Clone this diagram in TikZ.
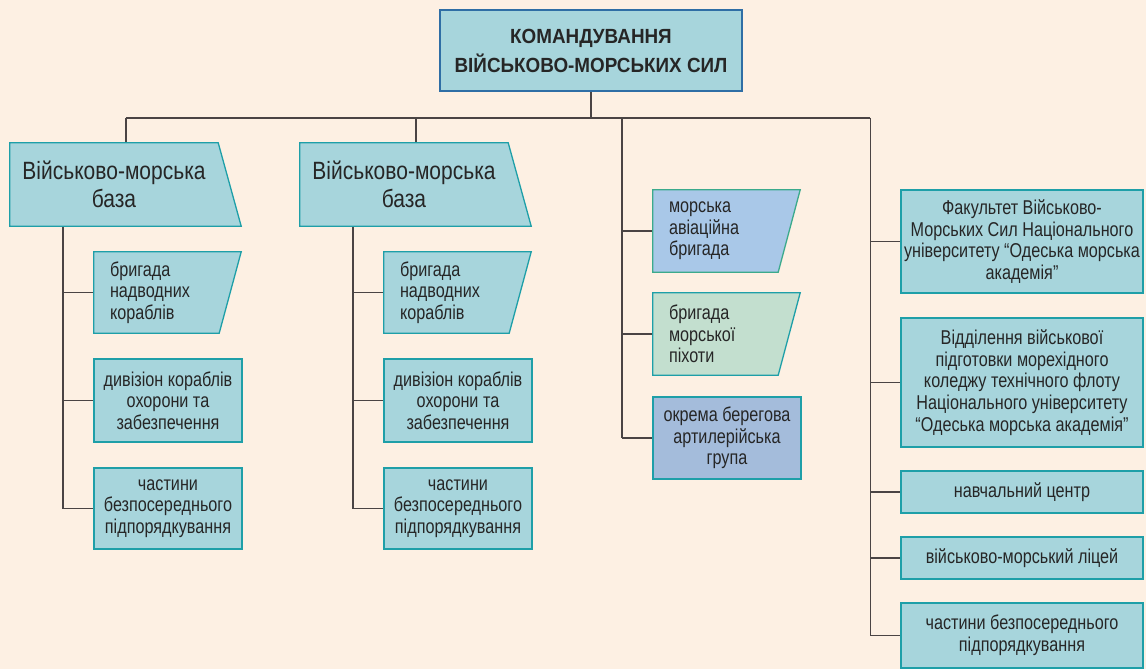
\documentclass[tikz,border=0pt]{standalone}
\usepackage{fontspec}
\setmainfont{Liberation Sans}[FakeStretch=0.81]
\newfontfamily\basefont{Liberation Sans}[FakeStretch=0.84]
\newfontfamily\topfont{Liberation Sans}[FakeStretch=0.92]
\usetikzlibrary{calc}
\pgfdeclarelayer{back}
\pgfdeclarelayer{bg}
\pgfsetlayers{back,bg,main}
\definecolor{bgc}{HTML}{FDF0E3}
\definecolor{boxf}{HTML}{A7D5DC}
\definecolor{tealb}{HTML}{1E9FA8}
\definecolor{topb}{HTML}{2F6EA5}
\definecolor{avf}{HTML}{A9C8E8}
\definecolor{avb}{HTML}{3BAA8C}
\definecolor{marf}{HTML}{C3DFCF}
\definecolor{artf}{HTML}{A4BCDB}
\definecolor{linec}{HTML}{4A4444}
\definecolor{txt}{HTML}{262626}
\begin{document}
\begin{tikzpicture}[x=1pt,y=-1pt,
  boxfont/.style={font=\fontsize{20}{21.6}\selectfont},
  box/.style={boxfont, draw=tealb, fill=boxf, line width=1.3pt, text=txt, align=center, inner sep=0pt, minimum width=148pt},
  basenode/.style={font=\basefont\fontsize{25}{28}\selectfont, text=txt, align=center, inner sep=0pt, minimum width=208pt, minimum height=83pt},
  lbox/.style={boxfont, text=txt, align=left, text width=93pt, inner xsep=16pt, inner ysep=0pt, minimum height=81pt},
  trap/.style={draw=tealb, fill=boxf, line width=1.3pt},
  ln/.style={draw=linec, line width=1.7pt}]
\begin{pgfonlayer}{back}
\fill[bgc] (0,0) rectangle (1146,669);
\end{pgfonlayer}
\useasboundingbox (0,0) rectangle (1146,669);

% top
\node[box, draw=topb, minimum width=302pt, minimum height=81pt,
  font=\topfont\bfseries\fontsize{20.5}{29}\selectfont] (top) at (591,50.5)
  {КОМАНДУВАННЯ\\ВІЙСЬКОВО-МОРСЬКИХ СИЛ};

% column 1
\node[basenode] (base1) at (114,184.5) {Військово-морська\\база};
\node[lbox] (brig1) at (156.5,292.5) {бригада\\надводних\\кораблів};
\node[box, minimum height=83pt] (div1) at (168,400.5) {дивізіон кораблів\\охорони та\\забезпечення};
\node[box, minimum height=81pt] (parts1) at (168,508.5) {частини\\безпосереднього\\підпорядкування};

% column 2
\node[basenode] (base2) at (404,184.5) {Військово-морська\\база};
\node[lbox] (brig2) at (446.5,292.5) {бригада\\надводних\\кораблів};
\node[box, minimum height=83pt] (div2) at (458,400.5) {дивізіон кораблів\\охорони та\\забезпечення};
\node[box, minimum height=81pt] (parts2) at (458,508.5) {частини\\безпосереднього\\підпорядкування};

% column 3
\node[lbox, minimum height=82pt] (av) at (715.5,231) {морська\\авіаційна\\бригада};
\node[lbox, minimum height=82pt] (mar) at (715.5,334) {бригада\\морської\\піхоти};
\node[box, fill=artf, minimum height=82pt] (art) at (727,438) {окрема берегова\\артилерійська\\група};

% column 4
\node[box, minimum width=242pt, minimum height=103pt] (fac) at (1022,241.5)
  {Факультет Військово-\\Морських Сил Національного\\університету “Одеська морська\\академія”};
\node[box, minimum width=242pt, minimum height=129pt] (dep) at (1022,382.5)
  {Відділення військової\\підготовки морехідного\\коледжу технічного флоту\\Національного університету\\“Одеська морська академія”};
\node[box, minimum width=242pt, minimum height=42pt] (nav) at (1022,492) {навчальний центр};
\node[box, minimum width=242pt, minimum height=42pt] (lic) at (1022,558) {військово-морський ліцей};
\node[box, minimum width=242pt, minimum height=65pt] (parts4) at (1022,635.5) {частини безпосереднього\\підпорядкування};

\coordinate (bus) at ($(top.south)+(0,26)$);
\coordinate (b1in) at ($(base1.north west)+(116,0)$);
\coordinate (b2in) at ($(base2.north west)+(116,0)$);
\coordinate (t1) at ($(base1.south west)+(53,0)$);
\coordinate (t2) at ($(base2.south west)+(53,0)$);
\coordinate (t3) at ($(av.west)+(-31,0)$);
\coordinate (t4) at ($(fac.west)+(-30,0)$);

\begin{pgfonlayer}{bg}
  % connectors
  \draw[ln] (top.south) -- (bus);
  \draw[ln] (b1in |- bus) -- (t4 |- bus);
  \draw[ln] (b1in |- bus) -- (b1in);
  \draw[ln] (b2in |- bus) -- (b2in);
  \draw[ln] (t3 |- bus) -- (t3 |- art.west);
  \draw[ln] (t4 |- bus) -- (t4 |- parts4.west);
  \draw[ln] (t1) -- (t1 |- parts1.west);
  \draw[ln] (t2) -- (t2 |- parts2.west);
  \foreach \n in {brig1,div1,parts1}{\draw[ln] (t1 |- \n.west) -- (\n.west);}
  \foreach \n in {brig2,div2,parts2}{\draw[ln] (t2 |- \n.west) -- (\n.west);}
  \foreach \n in {av,mar,art}{\draw[ln] (t3 |- \n.west) -- (\n.west);}
  \foreach \n in {fac,dep,nav,lic,parts4}{\draw[ln] (t4 |- \n.west) -- (\n.west);}
  % trapezoid shapes
  \foreach \n in {base1,base2}{
    \filldraw[trap] (\n.north west) -- (\n.north east) -- ($(\n.south east)+(23,0)$) -- (\n.south west) -- cycle;}
  \foreach \n in {brig1,brig2}{
    \filldraw[trap] (\n.north west) -- ($(\n.north east)+(22,0)$) -- (\n.south east) -- (\n.south west) -- cycle;}
  \filldraw[trap, draw=avb, fill=avf] (av.north west) -- ($(av.north east)+(22,0)$) -- (av.south east) -- (av.south west) -- cycle;
  \filldraw[trap, fill=marf] (mar.north west) -- ($(mar.north east)+(22,0)$) -- (mar.south east) -- (mar.south west) -- cycle;
\end{pgfonlayer}
\end{tikzpicture}
\end{document}
